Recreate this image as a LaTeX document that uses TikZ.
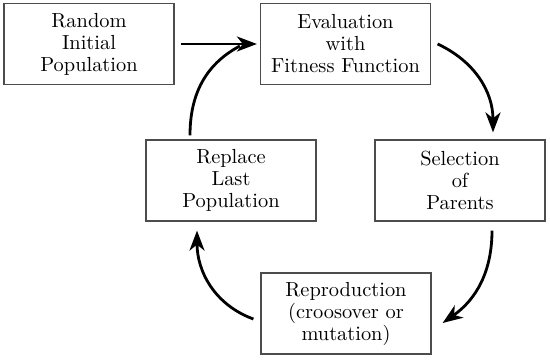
\documentclass[tikz,border=0pt]{standalone}
\usetikzlibrary{arrows.meta}
\begin{document}
\begin{tikzpicture}[x=0.5pt,y=0.5pt,
  box/.style={draw=black!70,line width=0.6pt,minimum width=85pt,minimum height=40.5pt,inner sep=0pt,align=center,font=\fontsize{10.2}{11}\selectfont},
  arr/.style={line width=1.4pt,-{Stealth[length=10pt,width=7.5pt,inset=3pt]}},
  link/.style={line width=1.4pt}]
\useasboundingbox (0,0) rectangle (550,359);
\node[box] (b1) at (89,315) {Random\\Initial\\Population};
\node[box] (b2) at (345.5,315) {Evaluation\\with\\Fitness Function};
\node[box] (b3) at (460,178.5) {Selection\\of\\Parents};
\node[box] (b4) at (231,178.5) {Replace\\Last\\Population};
\node[box] (b5) at (346,45.5) {Reproduction\\(croosover or\\mutation)};
\draw[arr] ([xshift=3pt]b1.east) -- ([xshift=-1.5pt]b2.west);
\draw[link] ([xshift=-20.5pt,yshift=2pt]b4.north) to[out=90,in=208] ([xshift=-10pt,yshift=-1pt]b2.west);
\draw[arr] ([xshift=3.25pt]b2.east) to[out=-25,in=90] ([xshift=16.5pt,yshift=3.5pt]b3.north);
\draw[arr] ([xshift=16pt,yshift=-4.5pt]b3.south) to[out=-90,in=35] ([xshift=5.5pt,yshift=-4.75pt]b5.east);
\draw[arr] ([xshift=-3.5pt,yshift=-2.75pt]b5.west) to[out=160,in=-90] ([xshift=-17pt,yshift=-4.5pt]b4.south);
\end{tikzpicture}
\end{document}
